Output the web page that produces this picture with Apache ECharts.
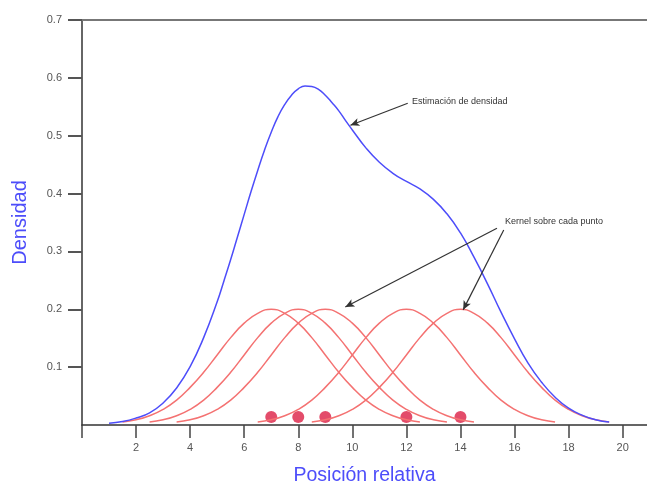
<!DOCTYPE html>
<html>
<head>
<meta charset="utf-8">
<script src="https://cdn.jsdelivr.net/npm/echarts@6/dist/echarts.min.js"></script>
<style>
  html, body { margin: 0; padding: 0; background: #fff; }
  #chart { width: 647px; height: 487px; }
</style>
</head>
<body>
<div id="chart"></div>
<script>
    // puntos observados
    var puntos = [7, 8, 9, 12, 14];
    var puntoAltura = 0.014;

    // forma del kernel, desplazamiento respecto al punto
    var kernelOffsets = [-5.5, -5, -4.5, -4, -3.5, -3, -2.5, -2, -1.5, -1, -0.5, 0,
        0.5, 1, 1.5, 2, 2.5, 3, 3.5, 4, 4.5, 5, 5.5];
    var kernelValores = [0.005, 0.009, 0.016, 0.027, 0.043, 0.065, 0.091, 0.121, 0.151, 0.176, 0.193, 0.2,
        0.193, 0.176, 0.151, 0.121, 0.091, 0.065, 0.043, 0.027, 0.016, 0.009, 0.005];

    // estimación de densidad
    var densidadX = [1, 1.5, 2, 2.5, 3, 3.5, 4, 4.5, 5, 5.25, 5.5, 5.75, 6, 6.25, 6.5, 6.75,
        7, 7.25, 7.5, 7.75, 8, 8.25, 8.5, 8.75, 9, 9.25, 9.5, 9.75, 10,
        10.5, 11, 11.5, 12, 12.5, 13, 13.5, 14, 14.5, 15, 15.5, 16, 16.5, 17, 17.5, 18, 18.5, 19, 19.5];
    var densidadY = [0.003, 0.006, 0.012, 0.021, 0.038, 0.064, 0.101, 0.151, 0.213, 0.249, 0.286, 0.325,
        0.364, 0.403, 0.440, 0.475, 0.506, 0.533, 0.554, 0.570, 0.581, 0.586, 0.585, 0.580,
        0.570, 0.557, 0.543, 0.526, 0.510, 0.479, 0.454, 0.435, 0.421, 0.408, 0.390,
        0.365, 0.332, 0.290, 0.244, 0.195, 0.149, 0.107, 0.074, 0.048, 0.029, 0.017, 0.009, 0.005];

    var xTicks = [0, 2, 4, 6, 8, 10, 12, 14, 16, 18, 20];
    var xLabels = [2, 4, 6, 8, 10, 12, 14, 16, 18, 20];

    var rojo = '#f47272';
    var azul = '#4d4dfa';
    var fuente = 'Liberation Sans, Arial, sans-serif';

    var series = [];
    puntos.forEach(function (c) {
        series.push({
            type: 'line',
            smooth: true,
            symbol: 'none',
            silent: true,
            lineStyle: { color: rojo, width: 1.5 },
            data: kernelOffsets.map(function (d, i) { return [c + d, kernelValores[i]]; })
        });
    });

    series.push({
        type: 'line',
        smooth: true,
        symbol: 'none',
        lineStyle: { color: azul, width: 1.5 },
        data: densidadX.map(function (x, i) { return [x, densidadY[i]]; }),
        markLine: {
            silent: true,
            symbol: ['none', 'arrow'],
            symbolSize: [6, 9],
            label: { show: false },
            lineStyle: { color: '#333', width: 1.2, type: 'solid' },
            data: [
                [{ coord: [12.05, 0.556] }, { coord: [9.93, 0.518] }],
                [{ coord: [15.35, 0.340] }, { coord: [9.74, 0.204] }],
                [{ coord: [15.6, 0.337] }, { coord: [14.1, 0.199] }]
            ]
        }
    });

    series.push({
        type: 'scatter',
        symbolSize: 12,
        itemStyle: { color: '#dc1f45' },
        data: puntos.map(function (p) { return [p, puntoAltura]; })
    });

    var myChart = echarts.init(document.getElementById('chart'));
    var option = {
        animation: false,
        grid: { left: 82, right: 0, top: 20, bottom: 62, outerBoundsMode: 'none' },
        xAxis: [{
            type: 'value',
            min: 0,
            max: 20.9,
            interval: 2,
            name: 'Posición relativa',
            nameLocation: 'middle',
            nameGap: 41,
            nameTextStyle: { color: azul, fontSize: 19.5, fontFamily: fuente },
            splitLine: { show: false },
            axisLine: { lineStyle: { color: '#333', width: 1.5 } },
            axisTick: { length: 13, customValues: xTicks, lineStyle: { color: '#444', width: 1.5 } },
            axisLabel: { customValues: xLabels, margin: 17, color: '#555', fontSize: 11, fontFamily: fuente }
        }, {
            type: 'value',
            position: 'top',
            min: 0,
            max: 20.9,
            axisLine: { lineStyle: { color: '#777', width: 2 } },
            axisTick: { show: false },
            axisLabel: { show: false },
            splitLine: { show: false }
        }],
        yAxis: {
            type: 'value',
            min: 0,
            max: 0.7,
            interval: 0.1,
            name: 'Densidad',
            nameLocation: 'middle',
            nameGap: 52,
            nameTextStyle: { color: azul, fontSize: 20, fontFamily: fuente },
            splitLine: { show: false },
            axisLine: { lineStyle: { color: '#666', width: 2 } },
            axisTick: { length: 14, lineStyle: { color: '#555', width: 2 } },
            axisLabel: {
                margin: 20, color: '#555', fontSize: 11, fontFamily: fuente,
                showMinLabel: false,
                formatter: function (v) { return v.toFixed(1); }
            }
        },
        graphic: [
            { type: 'text', left: 412, top: 97,
              style: { text: 'Estimación de densidad', fill: '#333', fontSize: 9, fontFamily: fuente } },
            { type: 'text', left: 505, top: 217,
              style: { text: 'Kernel sobre cada punto', fill: '#333', fontSize: 9, fontFamily: fuente } }
        ],
        series: series
    };
    myChart.setOption(option);
</script>
</body>
</html>
